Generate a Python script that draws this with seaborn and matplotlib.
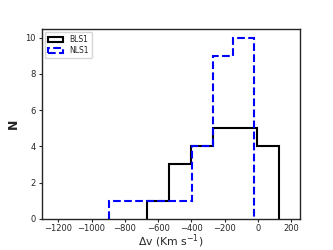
import numpy as np
import pandas as pd
import matplotlib
matplotlib.use("Agg")
import matplotlib.pyplot as plt
import seaborn as sns
from matplotlib.patches import Patch

# Histogram data
bls1_edges = [-669, -537, -404, -272, -140, -7, 125]
bls1_counts = [1, 3, 4, 5, 5, 4]
nls1_edges = [-893, -769, -645, -521, -397, -273, -148, -24]
nls1_counts = [1, 1, 1, 1, 4, 9, 10]
series_labels = ["BLS1", "NLS1"]
x_ticks = [-1200, -1000, -800, -600, -400, -200, 0, 200]
y_ticks = [0, 2, 4, 6, 8, 10]

sns.set_style("ticks")
fig, ax = plt.subplots(figsize=(3.33, 2.5), dpi=100)

def centers(edges):
    e = np.asarray(edges, dtype=float)
    return (e[:-1] + e[1:]) / 2

ax.hist(centers(bls1_edges), bins=bls1_edges, weights=bls1_counts,
        histtype="step", color="black", linewidth=1.5)
ax.hist(centers(nls1_edges), bins=nls1_edges, weights=nls1_counts,
        histtype="step", color="blue", linestyle="--", linewidth=1.5)

ax.set_xlim(-1300, 250)
ax.set_ylim(0, 10.5)
ax.set_xticks(x_ticks)
ax.set_yticks(y_ticks)
ax.tick_params(labelsize=6, length=2.5, width=0.8, pad=1.5)
ax.set_xlabel(r"$\Delta$v (Km s$^{-1}$)", fontsize=7.8, labelpad=-0.5)
ax.set_ylabel("N", fontsize=9, fontweight="bold", labelpad=4)
for s in ax.spines.values():
    s.set_visible(True)
    s.set_linewidth(1.0)

handles = [Patch(facecolor="none", edgecolor="black", linewidth=1.5),
           Patch(facecolor="none", edgecolor="blue", linestyle="--", linewidth=1.5)]
ax.legend(handles, series_labels, loc="upper left", fontsize=5.5,
          handlelength=2.0, handleheight=0.6, borderpad=0.4, labelspacing=0.3,
          borderaxespad=0.4)

fig.subplots_adjust(left=0.125, right=0.9, bottom=0.125, top=0.885)
fig.savefig("out.png", dpi=100)
